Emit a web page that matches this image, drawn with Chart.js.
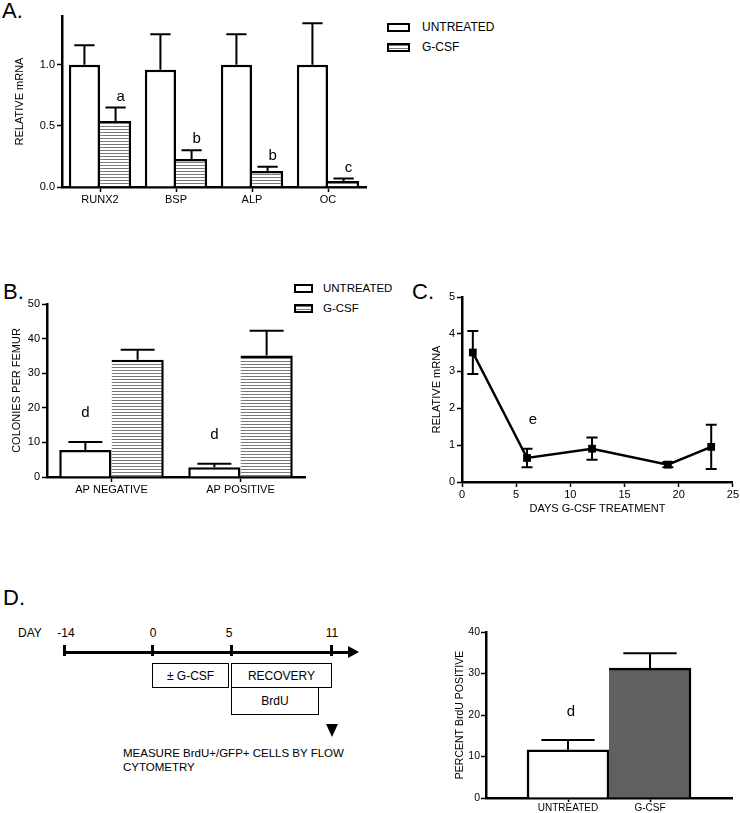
<!DOCTYPE html>
<html>
<head>
<meta charset="utf-8">
<script src="https://cdn.jsdelivr.net/npm/chart.js@4"></script>
<style>
  html, body { margin: 0; padding: 0; background: #fff; }
  #wrap { position: relative; width: 740px; height: 813px; overflow: hidden; font-family: "Liberation Sans", Arial, sans-serif; color: #000; }
  canvas { position: absolute; }
  .t { position: absolute; line-height: 1; white-space: nowrap; }
  .panel { font-size: 22px; line-height: 22px; }
  .lbox { position: absolute; box-sizing: border-box; border: 2.5px solid #000; background: #fff; }
  .hatch { background: repeating-linear-gradient(to bottom, #7a7a7a 0px, #7a7a7a 1px, #fff 1px, #fff 3px); }
  .box { position: absolute; box-sizing: border-box; border: 1.5px solid #000; font-size: 12px; display: flex; align-items: center; justify-content: center; }
  .bar { position: absolute; background: #000; }
</style>
</head>
<body>
<div id="wrap">
  <div class="t panel" style="left:2px;top:0px;">A.</div>
  <div class="t panel" style="left:3px;top:281px;">B.</div>
  <div class="t panel" style="left:412px;top:281px;">C.</div>
  <div class="t panel" style="left:3px;top:587px;">D.</div>

  <!-- legend A -->
  <div class="lbox" style="left:387px;top:23px;width:23px;height:9px;"></div>
  <div class="t" style="left:422px;top:21px;font-size:12px;">UNTREATED</div>
  <div class="lbox hatch" style="left:387px;top:43px;width:23px;height:9px;"></div>
  <div class="t" style="left:422px;top:41px;font-size:12px;">G-CSF</div>

  <!-- legend B -->
  <div class="lbox" style="left:294px;top:284px;width:19px;height:9px;"></div>
  <div class="t" style="left:323px;top:283px;font-size:11.5px;">UNTREATED</div>
  <div class="lbox hatch" style="left:294px;top:304px;width:19px;height:9px;"></div>
  <div class="t" style="left:323px;top:303px;font-size:11.5px;">G-CSF</div>

  <!-- timeline D -->
  <div id="timeline"></div>

  <canvas id="cA" width="375" height="212" style="left:0px;top:0px;"></canvas>
  <canvas id="cB" width="315" height="230" style="left:0px;top:280px;"></canvas>
  <canvas id="cC" width="340" height="240" style="left:400px;top:280px;"></canvas>
  <canvas id="cD" width="290" height="198" style="left:450px;top:615px;"></canvas>
</div>
<script>
// ---------------- DATA ----------------
const catsA = ['RUNX2', 'BSP', 'ALP', 'OC'];
const untreatedA = [1.0, 0.96, 1.0, 1.0];
const untreatedAErr = [0.16, 0.29, 0.25, 0.34];
const gcsfA = [0.54, 0.23, 0.13, 0.05];
const gcsfAErr = [0.11, 0.07, 0.035, 0.02];
const lettersA = ['a', 'b', 'b', 'c'];

const catsB = ['AP NEGATIVE', 'AP POSITIVE'];
const untreatedB = [7.8, 2.8];
const untreatedBErr = [2.3, 1.0];
const gcsfB = [33.9, 35.1];
const gcsfBErr = [2.9, 7.2];
const lettersB = ['d', 'd'];

const daysC = [1, 6, 12, 19, 23];
const mrnaC = [3.5, 0.65, 0.9, 0.47, 0.95];
const mrnaCErr = [0.58, 0.25, 0.3, 0.07, 0.6];
const lettersC = ['', 'e', '', '', ''];

const catsD = ['UNTREATED', 'G-CSF'];
const brduD = [11.6, 31.3];
const brduDErr = [2.4, 3.6];
const lettersD = ['d', ''];

const timelineDays = ['-14', '0', '5', '11'];
const timelineBoxes = ['\u00B1 G-CSF', 'RECOVERY', 'BrdU'];
const timelineNote = ['MEASURE BrdU+/GFP+ CELLS BY FLOW', 'CYTOMETRY'];

// ---------------- SETUP ----------------
Chart.defaults.font.family = '"Liberation Sans", Arial, sans-serif';
Chart.defaults.font.size = 11;
Chart.defaults.color = '#000';
Chart.defaults.animation = false;
Chart.defaults.responsive = false;
Chart.defaults.devicePixelRatio = 1;
Chart.defaults.plugins.legend.display = false;
Chart.defaults.plugins.tooltip.enabled = false;

function hatchPattern() {
  const c = document.createElement('canvas');
  c.width = 4; c.height = 3;
  const g = c.getContext('2d');
  g.fillStyle = '#fff'; g.fillRect(0, 0, 4, 3);
  g.fillStyle = '#7a7a7a'; g.fillRect(0, 0, 4, 1);
  return g.createPattern(c, 'repeat');
}
const HATCH = hatchPattern();

const errorBars = {
  id: 'errorBars',
  beforeDatasetsDraw(chart, args, opts) {
    const ctx = chart.ctx, ys = chart.scales.y;
    ctx.save();
    ctx.strokeStyle = '#000';
    ctx.lineWidth = opts.lineWidth || 2;
    chart.data.datasets.forEach((ds, i) => {
      if (!ds.errors) return;
      const meta = chart.getDatasetMeta(i);
      meta.data.forEach((el, j) => {
        const p = meta.controller.getParsed(j);
        const e = ds.errors[j];
        if (!p || p.y == null || isNaN(p.y) || e == null) return;
        const top = ys.getPixelForValue(p.y + e);
        const bot = opts.both ? ys.getPixelForValue(p.y - e) : el.y;
        const cap = opts.capRatio ? el.width * opts.capRatio : opts.capWidth;
        ctx.beginPath();
        ctx.moveTo(el.x, bot); ctx.lineTo(el.x, top);
        ctx.moveTo(el.x - cap / 2, top); ctx.lineTo(el.x + cap / 2, top);
        if (opts.both) { ctx.moveTo(el.x - cap / 2, bot); ctx.lineTo(el.x + cap / 2, bot); }
        ctx.stroke();
      });
    });
    ctx.restore();
  },
  afterDatasetsDraw(chart, args, opts) {
    const ctx = chart.ctx, ys = chart.scales.y;
    ctx.save();
    ctx.fillStyle = '#000';
    ctx.font = '15px "Liberation Sans", Arial, sans-serif';
    ctx.textAlign = 'center';
    ctx.textBaseline = 'middle';
    chart.data.datasets.forEach((ds, i) => {
      if (!ds.letters) return;
      const meta = chart.getDatasetMeta(i);
      meta.data.forEach((el, j) => {
        const L = ds.letters[j];
        if (!L) return;
        const p = meta.controller.getParsed(j);
        const e = ds.errors ? (ds.errors[j] || 0) : 0;
        ctx.fillText(L, el.x + (opts.letterDx || 0), ys.getPixelForValue(p.y + e) - opts.letterGap);
      });
    });
    ctx.restore();
  }
};

function axisCommon(extra) {
  return Object.assign({
    border: { display: true, color: '#000', width: 2.5 },
    grid: { display: true, drawOnChartArea: false, drawTicks: true, tickLength: 5, tickWidth: 1.5, tickColor: '#000', offset: false }
  }, extra);
}

// ---------------- PANEL A ----------------
new Chart(document.getElementById('cA'), {
  type: 'bar',
  data: {
    labels: catsA,
    datasets: [
      { label: 'UNTREATED', data: untreatedA, errors: untreatedAErr, backgroundColor: '#fff', borderColor: '#000', borderWidth: 2.5 },
      { label: 'G-CSF', data: gcsfA, errors: gcsfAErr, letters: lettersA, backgroundColor: HATCH, borderColor: '#000',
        borderWidth: { top: 2.5, right: 2.5, bottom: 0, left: 0 } }
    ]
  },
  options: {
    layout: { padding: { left: 9, top: 16, right: 9, bottom: 0 } },
    datasets: { bar: { categoryPercentage: 0.82, barPercentage: 1.0 } },
    scales: {
      x: axisCommon({ ticks: { padding: 1, font: { size: 11 } }, afterFit: s => { s.height = 25; } }),
      y: axisCommon({
        min: 0, max: 1.4,
        ticks: { stepSize: 0.5, includeBounds: false, padding: 2, callback: v => Number(v).toFixed(1) },
        title: { display: true, text: 'RELATIVE mRNA', font: { size: 11 }, padding: { top: 4, bottom: 0 } },
        afterFit: s => { s.width = 53; }
      })
    },
    plugins: { errorBars: { capRatio: 0.65, letterGap: 11, letterDx: 5, lineWidth: 2 } }
  },
  plugins: [errorBars]
});

// ---------------- PANEL B ----------------
new Chart(document.getElementById('cB'), {
  type: 'bar',
  data: {
    labels: catsB,
    datasets: [
      { label: 'UNTREATED', data: untreatedB, errors: untreatedBErr, letters: lettersB, backgroundColor: '#fff', borderColor: '#000', borderWidth: 2.5 },
      { label: 'G-CSF', data: gcsfB, errors: gcsfBErr, backgroundColor: HATCH, borderColor: '#000',
        borderWidth: { top: 2.5, right: 2.5, bottom: 0, left: 0 } }
    ]
  },
  options: {
    layout: { padding: { left: 6, top: 24, right: 10, bottom: 0 } },
    datasets: { bar: { categoryPercentage: 0.81, barPercentage: 1.0 } },
    scales: {
      x: axisCommon({ ticks: { padding: 1, font: { size: 11 } }, afterFit: s => { s.height = 33; } }),
      y: axisCommon({
        min: 0, max: 50,
        ticks: { stepSize: 10, padding: 2 },
        title: { display: true, text: 'COLONIES PER FEMUR', font: { size: 11 }, padding: { top: 4, bottom: 0 } },
        afterFit: s => { s.width = 41; }
      })
    },
    plugins: { errorBars: { capRatio: 0.65, letterGap: 29, letterDx: 0, lineWidth: 2 } }
  },
  plugins: [errorBars]
});

// ---------------- PANEL C ----------------
new Chart(document.getElementById('cC'), {
  type: 'line',
  data: {
    datasets: [{
      label: 'RELATIVE mRNA',
      data: daysC.map((d, i) => ({ x: d, y: mrnaC[i] })),
      errors: mrnaCErr, letters: lettersC,
      borderColor: '#000', backgroundColor: '#000', borderWidth: 2.5,
      pointStyle: 'rect', pointRadius: 5.5, pointBorderWidth: 0, tension: 0
    }]
  },
  options: {
    layout: { padding: { left: 26, top: 17, right: 7, bottom: 0 } },
    scales: {
      x: axisCommon({
        type: 'linear', min: 0, max: 25,
        ticks: { stepSize: 5, padding: 1 },
        title: { display: true, text: 'DAYS G-CSF TREATMENT', font: { size: 11 }, padding: { top: 2, bottom: 4 } },
        afterFit: s => { s.height = 38; }
      }),
      y: axisCommon({
        min: 0, max: 5,
        ticks: { stepSize: 1, padding: 2 },
        title: { display: true, text: 'RELATIVE mRNA', font: { size: 11 }, padding: { top: 4, bottom: 0 } },
        afterFit: s => { s.width = 36; }
      })
    },
    plugins: { errorBars: { capWidth: 11, both: true, letterGap: 29, letterDx: 6, lineWidth: 2 } }
  },
  plugins: [errorBars]
});

// ---------------- PANEL D (bar) ----------------
const labelsD = [''].concat(catsD, ['']);
new Chart(document.getElementById('cD'), {
  type: 'bar',
  data: {
    labels: labelsD,
    datasets: [{
      label: 'PERCENT BrdU POSITIVE',
      data: [null].concat(brduD, [null]),
      errors: [null].concat(brduDErr, [null]),
      letters: [''].concat(lettersD, ['']),
      backgroundColor: ['#fff', '#fff', '#606060', '#fff'],
      borderColor: '#000',
      borderWidth: ctx => ctx.dataIndex === 2 ? { top: 2.5, right: 2.5, bottom: 0, left: 0 } : 2.5
    }]
  },
  options: {
    layout: { padding: { left: 1, top: 17, right: 8, bottom: 0 } },
    datasets: { bar: { categoryPercentage: 1.0, barPercentage: 1.0 } },
    scales: {
      x: {
        offset: false,
        border: { display: true, color: '#000', width: 2.5 },
        grid: { display: true, drawOnChartArea: false, drawTicks: true, tickLength: 4, tickWidth: 1.5, offset: false,
          tickColor: c => (c.index === 1 || c.index === 2) ? '#000' : 'rgba(0,0,0,0)' },
        ticks: { padding: 0, font: { size: 10 }, autoSkip: false, maxRotation: 0 },
        afterFit: s => { s.height = 15; }
      },
      y: axisCommon({
        min: 0, max: 40,
        ticks: { stepSize: 10, padding: 1, font: { size: 10.5 } },
        title: { display: true, text: 'PERCENT BrdU POSITIVE', font: { size: 10.5 }, padding: { top: 3, bottom: 0 } },
        afterFit: s => { s.width = 35; }
      })
    },
    plugins: { errorBars: { capRatio: 0.65, letterGap: 28, letterDx: 3, lineWidth: 2 } }
  },
  plugins: [errorBars]
});

// ---------------- PANEL D (timeline schematic) ----------------
(function () {
  const tl = document.getElementById('timeline');
  const add = (cls, style, text) => {
    const d = document.createElement('div');
    d.className = cls; d.style.cssText = style;
    if (text != null) d.textContent = text;
    tl.appendChild(d); return d;
  };
  add('t', 'left:18px;top:627px;font-size:12px;', 'DAY');
  const dayX = [66, 153, 229, 332];
  timelineDays.forEach((t, i) => {
    add('t', 'left:' + (dayX[i] - 20) + 'px;width:40px;text-align:center;top:627px;font-size:12px;', t);
  });
  add('bar', 'left:64px;top:651px;width:288px;height:3px;');
  add('', 'position:absolute;left:348px;top:646px;width:0;height:0;border-left:11px solid #000;border-top:6.5px solid transparent;border-bottom:6.5px solid transparent;');
  [64, 152, 231, 331].forEach(x => add('bar', 'left:' + (x - 1.5) + 'px;top:645px;width:3px;height:11px;'));
  add('box', 'left:152px;top:663px;width:77px;height:25px;', timelineBoxes[0]);
  add('box', 'left:231px;top:663px;width:101px;height:25px;', timelineBoxes[1]);
  add('box', 'left:231px;top:687px;width:88px;height:28px;', timelineBoxes[2]);
  add('', 'position:absolute;left:326px;top:724px;width:0;height:0;border-top:13px solid #000;border-left:6px solid transparent;border-right:6px solid transparent;');
  add('t', 'left:123px;top:748px;font-size:11.5px;', timelineNote[0]);
  add('t', 'left:123px;top:762px;font-size:11.5px;', timelineNote[1]);
})();
</script>
</body>
</html>
